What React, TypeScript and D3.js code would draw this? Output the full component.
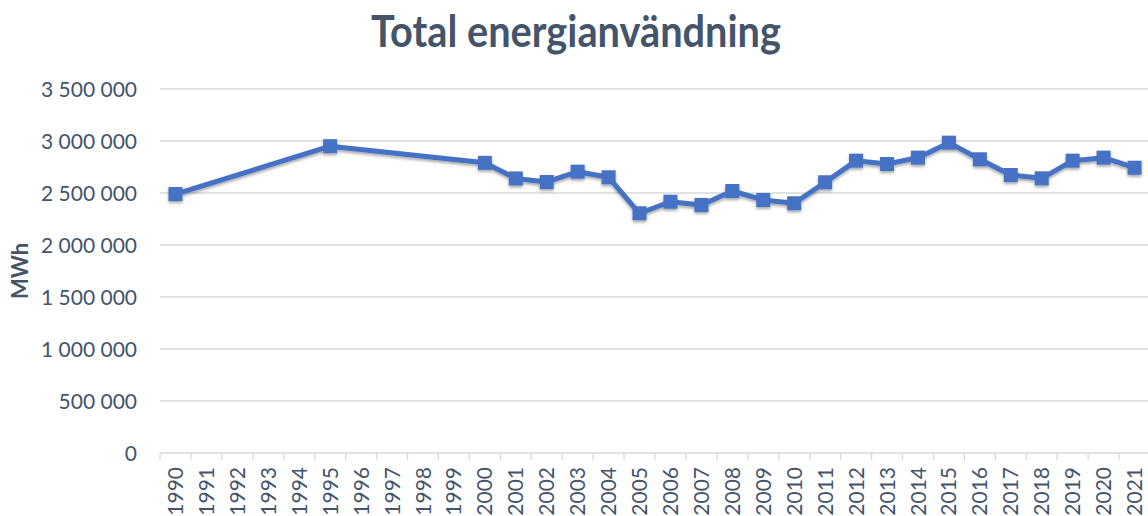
import { useEffect, useRef } from 'react'
import * as d3 from 'd3'

const years = d3.range(1990, 2022).map(String)
// null = no value that year (line connects over gaps)
const energy: (number | null)[] = [
  2490000, null, null, null, null, 2950000, null, null, null, null,
  2790000, 2640000, 2606000, 2705000, 2651000, 2305000, 2416000, 2385000, 2519000, 2433000,
  2401000, 2603000, 2811000, 2779000, 2840000, 2984000, 2824000, 2673000, 2641000, 2811000,
  2840000, 2743000,
]
const yTicks = [0, 500000, 1000000, 1500000, 2000000, 2500000, 3000000, 3500000]

const W = 1148
const H = 516
const FONT = 'Lato, "Open Sans", sans-serif'
const TEXT = '#44546A'

export default function App() {
  const ref = useRef<SVGSVGElement>(null)

  useEffect(() => {
    const svg = d3.select(ref.current)
    svg.selectAll('*').remove()

    const margin = { top: 89, right: -2, bottom: 63, left: 160 }
    const x = d3.scaleBand().domain(years).range([margin.left, W - margin.right])
    const y = d3.scaleLinear().domain([0, 3500000]).range([H - margin.bottom, margin.top])
    const fmt = (v: number) => d3.format(',')(v).replace(/,/g, ' ')

    const defs = svg.append('defs')
    const f = defs.append('filter').attr('id', 'shadow')
      .attr('x', '-20%').attr('y', '-20%').attr('width', '140%').attr('height', '160%')
    f.append('feDropShadow').attr('dx', 0).attr('dy', 2).attr('stdDeviation', 1.6)
      .attr('flood-color', '#000').attr('flood-opacity', 0.35)

    // title
    svg.append('text')
      .attr('x', 576).attr('y', 47)
      .attr('text-anchor', 'middle')
      .attr('textLength', 410).attr('lengthAdjust', 'spacingAndGlyphs')
      .style('font-family', FONT).style('font-weight', 700).style('font-size', '43px')
      .style('fill', TEXT)
      .text('Total energianvändning')

    // gridlines + y labels
    const grid = svg.append('g')
    grid.selectAll('line').data(yTicks.filter(d => d > 0)).enter().append('line')
      .attr('x1', margin.left).attr('x2', W)
      .attr('y1', d => y(d)).attr('y2', d => y(d))
      .attr('stroke', '#D9D9D9').attr('stroke-width', 1.3)
    svg.append('g').selectAll('text').data(yTicks).enter().append('text')
      .attr('x', 137).attr('y', d => y(d)).attr('dy', '0.36em')
      .attr('text-anchor', 'end')
      .style('font-family', FONT).style('font-size', '21px').style('fill', TEXT)
      .text(d => fmt(d))

    // axis title
    svg.append('text')
      .attr('transform', `translate(28,${(y(0) + y(3500000)) / 2}) rotate(-90)`)
      .attr('text-anchor', 'middle')
      .style('font-family', FONT).style('font-weight', 700).style('font-size', '22px')
      .style('fill', TEXT)
      .text('MWh')

    // x axis
    const xa = svg.append('g')
    xa.append('line')
      .attr('x1', margin.left).attr('x2', W).attr('y1', y(0)).attr('y2', y(0))
      .attr('stroke', '#D9D9D9').attr('stroke-width', 1.3)
    xa.selectAll('line.tick').data(years).enter().append('line').attr('class', 'tick')
      .attr('x1', d => x(d)!).attr('x2', d => x(d)!)
      .attr('y1', y(0)).attr('y2', y(0) + 7)
      .attr('stroke', '#D9D9D9').attr('stroke-width', 1.3)
    xa.selectAll('text').data(years).enter().append('text')
      .attr('transform', d => `translate(${x(d)! + x.bandwidth() / 2},${y(0) + 14}) rotate(-90)`)
      .attr('text-anchor', 'end').attr('dy', '0.36em')
      .style('font-family', FONT).style('font-size', '21px').style('fill', TEXT)
      .text(d => d)

    const pts = years.map((yr, i) => ({ yr, v: energy[i] })).filter(d => d.v != null) as { yr: string; v: number }[]
    const cx = (d: { yr: string }) => x(d.yr)! + x.bandwidth() / 2

    const line = d3.line<{ yr: string; v: number }>().x(cx).y(d => y(d.v))
    const g = svg.append('g').attr('filter', 'url(#shadow)')
    g.append('path').datum(pts)
      .attr('d', line)
      .attr('fill', 'none').attr('stroke', '#4472C4').attr('stroke-width', 5)
      .attr('stroke-linejoin', 'round')
    const s = 14
    g.selectAll('rect').data(pts).enter().append('rect')
      .attr('x', d => cx(d) - s / 2).attr('y', d => y(d.v) - s / 2)
      .attr('width', s).attr('height', s)
      .attr('fill', '#4472C4')
  }, [])

  return <svg ref={ref} width={W} height={H} style={{ display: 'block', position: 'absolute', left: 0, top: 0 }} />
}
